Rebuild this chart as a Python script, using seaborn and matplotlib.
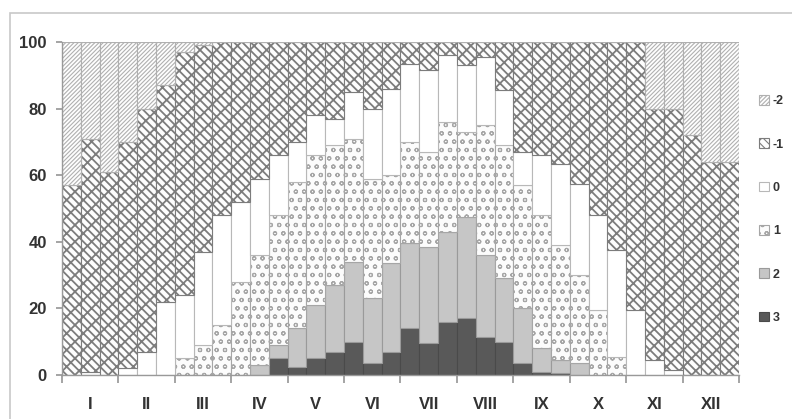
import pandas as pd
import seaborn as sns
import matplotlib.pyplot as plt
from matplotlib.patches import Patch, Rectangle

# ten-day periods, 3 per month
months = ['I', 'II', 'III', 'IV', 'V', 'VI', 'VII', 'VIII', 'IX', 'X', 'XI', 'XII']
classes = ['-2', '-1', '0', '1', '2', '3']

# share (%) of each class in every ten-day period
cls_3 = [0, 0, 0, 0, 0, 0, 0, 0, 0, 0, 0, 5,
         2.5, 5, 7, 10, 3.5, 7, 14, 9.5, 16, 17, 11.5, 10,
         3.5, 1, 0.5, 0, 0, 0, 0, 0, 0, 0, 0, 0]
cls_2 = [0, 0, 0, 0, 0, 0, 0, 0, 0, 0, 3, 4,
         11.5, 16, 20, 24, 19.5, 26.5, 25.5, 29, 27, 30.5, 24.5, 19,
         16.5, 7, 4, 3.5, 0, 0, 0, 0, 0, 0, 0, 0]
cls_1 = [0, 0, 0, 0, 0, 0, 5, 9, 15, 28, 33, 39,
         44, 45, 42, 37, 36, 26.5, 30.5, 28.5, 33, 25.5, 39, 40,
         37, 40, 34.5, 26.5, 19.5, 5.5, 0, 0, 0, 0, 0, 0]
cls_0 = [0, 1, 0, 2, 7, 22, 19, 28, 33, 24, 23, 18,
         12, 12, 8, 14, 21, 26, 23.5, 24.5, 20, 20, 20.5, 16.5,
         10, 18, 24.5, 27.5, 28.5, 32, 19.5, 4.5, 1.5, 0, 0, 0]
cls_m1 = [57, 70, 61, 68, 73, 65, 73, 62, 52, 48, 41, 34,
          30, 22, 23, 15, 20, 14, 6.5, 8.5, 4, 7, 4.5, 14.5,
          33, 34, 36.5, 42.5, 52, 62.5, 80.5, 75.5, 78.5, 72, 64, 64]
cls_m2 = [43, 29, 39, 30, 20, 13, 3, 1, 0, 0, 0, 0,
          0, 0, 0, 0, 0, 0, 0, 0, 0, 0, 0, 0,
          0, 0, 0, 0, 0, 0, 0, 20, 20, 28, 36, 36]

series = {'-2': cls_m2, '-1': cls_m1, '0': cls_0, '1': cls_1, '2': cls_2, '3': cls_3}
rows = []
for cls, vals in series.items():
    for i, v in enumerate(vals):
        rows.append({'period': i, 'class': cls, 'share': v})
df = pd.DataFrame(rows)

# grey-scale fills and hatches of the original print
bs = chr(92)
faces = {'-2': '#fefefe', '-1': '#fdfdfd', '0': '#ffffff',
         '1': '#fcfcfc', '2': '#c6c6c6', '3': '#595959'}
edges = {'-2': '#b0b0b0', '-1': '#7c7c7c', '0': '#b8b8b8',
         '1': '#a6a6a6', '2': '#9a9a9a', '3': '#4a4a4a'}
hatches = {'-2': '////////', '-1': bs * 4 + '//', '0': '', '1': 'oo', '2': '', '3': ''}

sns.set_theme(style='white')
plt.rcParams['font.family'] = ['Liberation Sans', 'DejaVu Sans']
plt.rcParams['hatch.linewidth'] = 0.8

fig = plt.figure(figsize=(7.92, 4.19), dpi=100)
ax = fig.add_axes([62 / 792, 1 - 375 / 419, (739 - 62) / 792, (375 - 42) / 419])

sns.histplot(data=df, x='period', weights='share', hue='class', hue_order=classes,
             multiple='stack', discrete=True, shrink=1, palette=faces,
             alpha=1, legend=False, ax=ax, linewidth=0.8, edgecolor='#888888')

# hatches by face colour
col2cls = {tuple(round(c, 3) for c in plt.matplotlib.colors.to_rgb(v)): k for k, v in faces.items()}
for p in ax.patches:
    key = tuple(round(c, 3) for c in p.get_facecolor()[:3])
    cls = col2cls.get(key)
    if cls is None:
        continue
    p.set_edgecolor(edges[cls])
    p.set_hatch(hatches[cls])
    if cls == '-1' and hasattr(p, 'set_hatch_linewidth'):
        p.set_hatch_linewidth(1.3)

ax.set_xlim(-0.5, 35.5)
ax.set_ylim(0, 100)
ax.set_yticks(range(0, 101, 20))
ax.set_xticks([i * 3 - 0.5 for i in range(13)])
ax.set_xticklabels([])
ax.set_xticks([i * 3 + 1 for i in range(12)], minor=True)
ax.set_xticklabels(months, minor=True)
ax.tick_params(axis='x', which='major', direction='out', length=6, color='#999999', bottom=True)
ax.tick_params(axis='x', which='minor', length=0, pad=16, labelsize=12, labelcolor='#333333')
ax.tick_params(axis='y', direction='out', length=4, color='#999999', left=True,
               pad=7, labelsize=12, labelcolor='#333333')
for lbl in ax.get_xticklabels(minor=True) + ax.get_yticklabels():
    lbl.set_fontweight('bold')
ax.set_xlabel('')
ax.set_ylabel('')
for side in ['top', 'right']:
    ax.spines[side].set_visible(False)
for side in ['left', 'bottom']:
    ax.spines[side].set_color('#999999')
    ax.spines[side].set_linewidth(1.0)

handles = [Patch(facecolor=faces[c], edgecolor=edges[c], hatch=hatches[c], linewidth=0.8)
           for c in classes]
leg = fig.legend(handles, classes, loc='upper left', bbox_to_anchor=(754 / 792, 1 - 90 / 419),
                 frameon=False, fontsize=9, handlelength=0.8, handleheight=0.8,
                 handletextpad=0.3, labelspacing=2.5, borderaxespad=0)
for t in leg.get_texts():
    t.set_fontweight('bold')
    t.set_color('#333333')

# outer frame of the figure
fig.patches.append(Rectangle((10 / 792, -0.05), 1.1, 1 - 13 / 419 + 0.05,
                             transform=fig.transFigure, fill=False,
                             edgecolor='#c8c8c8', linewidth=1.2))

fig.savefig('out.png', dpi=100)
